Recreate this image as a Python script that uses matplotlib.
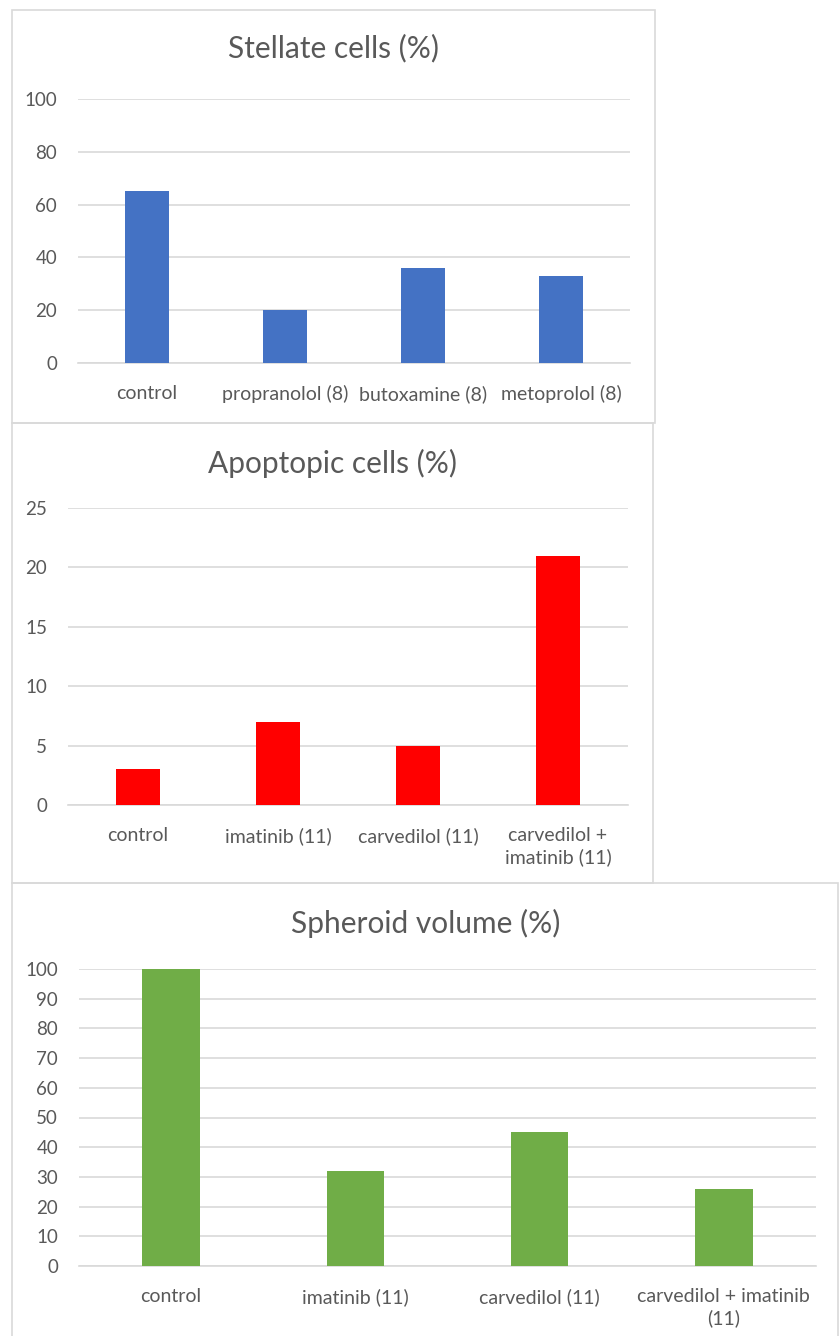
import matplotlib.pyplot as plt
import matplotlib.patches as patches

# chart data
stellate_labels = ["control", "propranolol (8)", "butoxamine (8)", "metoprolol (8)"]
stellate_values = [65, 20, 36, 33]

apoptopic_labels = ["control", "imatinib (11)", "carvedilol (11)", "carvedilol +\nimatinib (11)"]
apoptopic_values = [3, 7, 5, 21]

spheroid_labels = ["control", "imatinib (11)", "carvedilol (11)", "carvedilol + imatinib\n(11)"]
spheroid_values = [100, 32, 45, 26]

W, H = 840, 1336
TEXT = "#595959"
GRID = "#d9d9d9"

plt.rcParams['font.family'] = ['Lato', 'DejaVu Sans']

fig = plt.figure(figsize=(W / 100, H / 100), dpi=100)


def box(x0, y0, x1, y1):
    """Panel frame in pixel coords (y from top)."""
    rect = patches.Rectangle((x0 / W, 1 - y1 / H), (x1 - x0) / W, (y1 - y0) / H,
                             transform=fig.transFigure, fill=False, edgecolor=GRID, linewidth=1.2)
    fig.patches.append(rect)


def panel(ax_px, labels, values, color, ymax, step, title, title_xy):
    x0, x1, ytop, ybot = ax_px
    ax = fig.add_axes([x0 / W, 1 - ybot / H, (x1 - x0) / W, (ybot - ytop) / H])
    ax.bar(range(len(values)), values, width=0.313, color=color, zorder=3)
    ax.set_xlim(-0.5, len(values) - 0.5)
    ax.set_ylim(0, ymax)
    ax.set_yticks(range(0, ymax + 1, step))
    ax.set_xticks(range(len(labels)))
    ax.set_xticklabels(labels, linespacing=1.28)
    ax.yaxis.grid(True, color=GRID, linewidth=1.2, zorder=0)
    ax.set_axisbelow(True)
    for s in ["top", "right", "left"]:
        ax.spines[s].set_visible(False)
    ax.spines["bottom"].set_color(GRID)
    ax.spines["bottom"].set_linewidth(1.2)
    ax.tick_params(axis='both', length=0, labelsize=14, labelcolor=TEXT)
    ax.tick_params(axis='x', pad=16)
    ax.tick_params(axis='y', labelsize=13.5, pad=15)
    ax.patch.set_alpha(0)
    fig.text(title_xy[0] / W, 1 - title_xy[1] / H, title, ha='center', va='center',
             fontsize=21.5, color=TEXT)
    return ax


box(12, 10, 655, 423)
box(12, 423, 653, 883)
box(12, 883, 838, 1345)

panel((78, 630, 99, 363), stellate_labels, stellate_values, "#4472c4", 100, 20,
      "Stellate cells (%)", (333, 48))
panel((68, 628, 508, 805), apoptopic_labels, apoptopic_values, "#ff0000", 25, 5,
      "Apoptopic cells (%)", (333, 463))
panel((79, 816, 969, 1266), spheroid_labels, spheroid_values, "#70ad47", 100, 10,
      "Spheroid volume (%)", (426, 923))

fig.savefig("out.png", dpi=100, facecolor="white")
